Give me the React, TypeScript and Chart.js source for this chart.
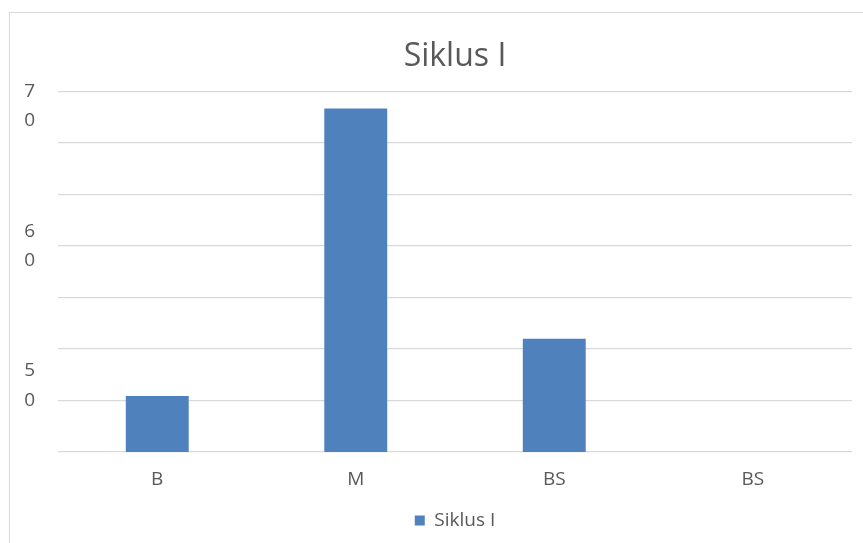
import React, { useEffect, useRef } from "react";
import { Chart, registerables } from "chart.js";

Chart.register(...registerables);

const categories = ["B", "M", "BS", "BS"];
const seriesName = "Siklus I";
const seriesValues = [50.3, 68.9, 54.0, 0];
const yMin = 46.67;
const yMax = 70;
const yTickValues = [46.67, 50, 53.33, 56.67, 60, 63.33, 66.67, 70];
const yTickLabels: Record<string, string[]> = {
  "50": ["5", "0", ""],
  "60": ["6", "0"],
  "70": ["", "7", "0"],
};

const TEXT = "#595959";
const GRID = "#d9d9d9";
const BAR = "#4F81BD";
const FONT = "'Open Sans', sans-serif";

export default function App() {
  const ref = useRef<HTMLCanvasElement | null>(null);

  useEffect(() => {
    document.body.style.margin = "0";
    const canvas = ref.current;
    if (!canvas) return;
    const chart = new Chart(canvas, {
      type: "bar",
      data: {
        labels: categories,
        datasets: [
          {
            label: seriesName,
            data: seriesValues,
            backgroundColor: BAR,
            borderWidth: 0,
            categoryPercentage: 1,
            barPercentage: 0.317,
          },
        ],
      },
      options: {
        responsive: false,
        animation: false,
        layout: { padding: { left: 0, right: 11, top: 0, bottom: 3 } },
        plugins: {
          title: {
            display: true,
            fullSize: false,
            text: "Siklus I",
            color: TEXT,
            font: { family: FONT, size: 32, weight: "normal" },
            padding: { top: 38, bottom: 15 },
          },
          legend: {
            display: true,
            fullSize: false,
            position: "bottom",
            labels: {
              boxWidth: 10,
              boxHeight: 10,
              color: TEXT,
              font: { family: FONT, size: 19 },
              padding: 10,
            },
          },
          tooltip: { enabled: false },
        },
        scales: {
          x: {
            grid: { display: false, drawTicks: false },
            border: { display: false },
            ticks: {
              color: TEXT,
              font: { family: FONT, size: 19 },
              padding: 16,
            },
            afterFit: (scale: any) => {
              scale.height = 49;
            },
          },
          y: {
            min: yMin,
            max: yMax,
            grid: { color: GRID, lineWidth: 1.3, drawTicks: false },
            border: { display: false },
            afterBuildTicks: (scale: any) => {
              scale.ticks = yTickValues.map((v) => ({ value: v }));
            },
            ticks: {
              autoSkip: false,
              color: TEXT,
              font: { family: FONT, size: 19, lineHeight: 1.55 },
              padding: 23,
              callback: (value: any) => yTickLabels[String(value)] ?? "",
            },
            afterFit: (scale: any) => {
              scale.width = 58;
            },
          },
        },
      },
    });
    return () => chart.destroy();
  }, []);

  return (
    <div style={{ position: "relative", width: 863, height: 543, background: "#fff" }}>
      <div
        style={{
          position: "absolute",
          left: 9,
          top: 12,
          right: 0,
          bottom: 0,
          borderTop: "1.5px solid #d9d9d9",
          borderLeft: "1.5px solid #d9d9d9",
        }}
      />
      <canvas ref={ref} width={863} height={543} style={{ position: "absolute", left: 0, top: 0 }} />
    </div>
  );
}
